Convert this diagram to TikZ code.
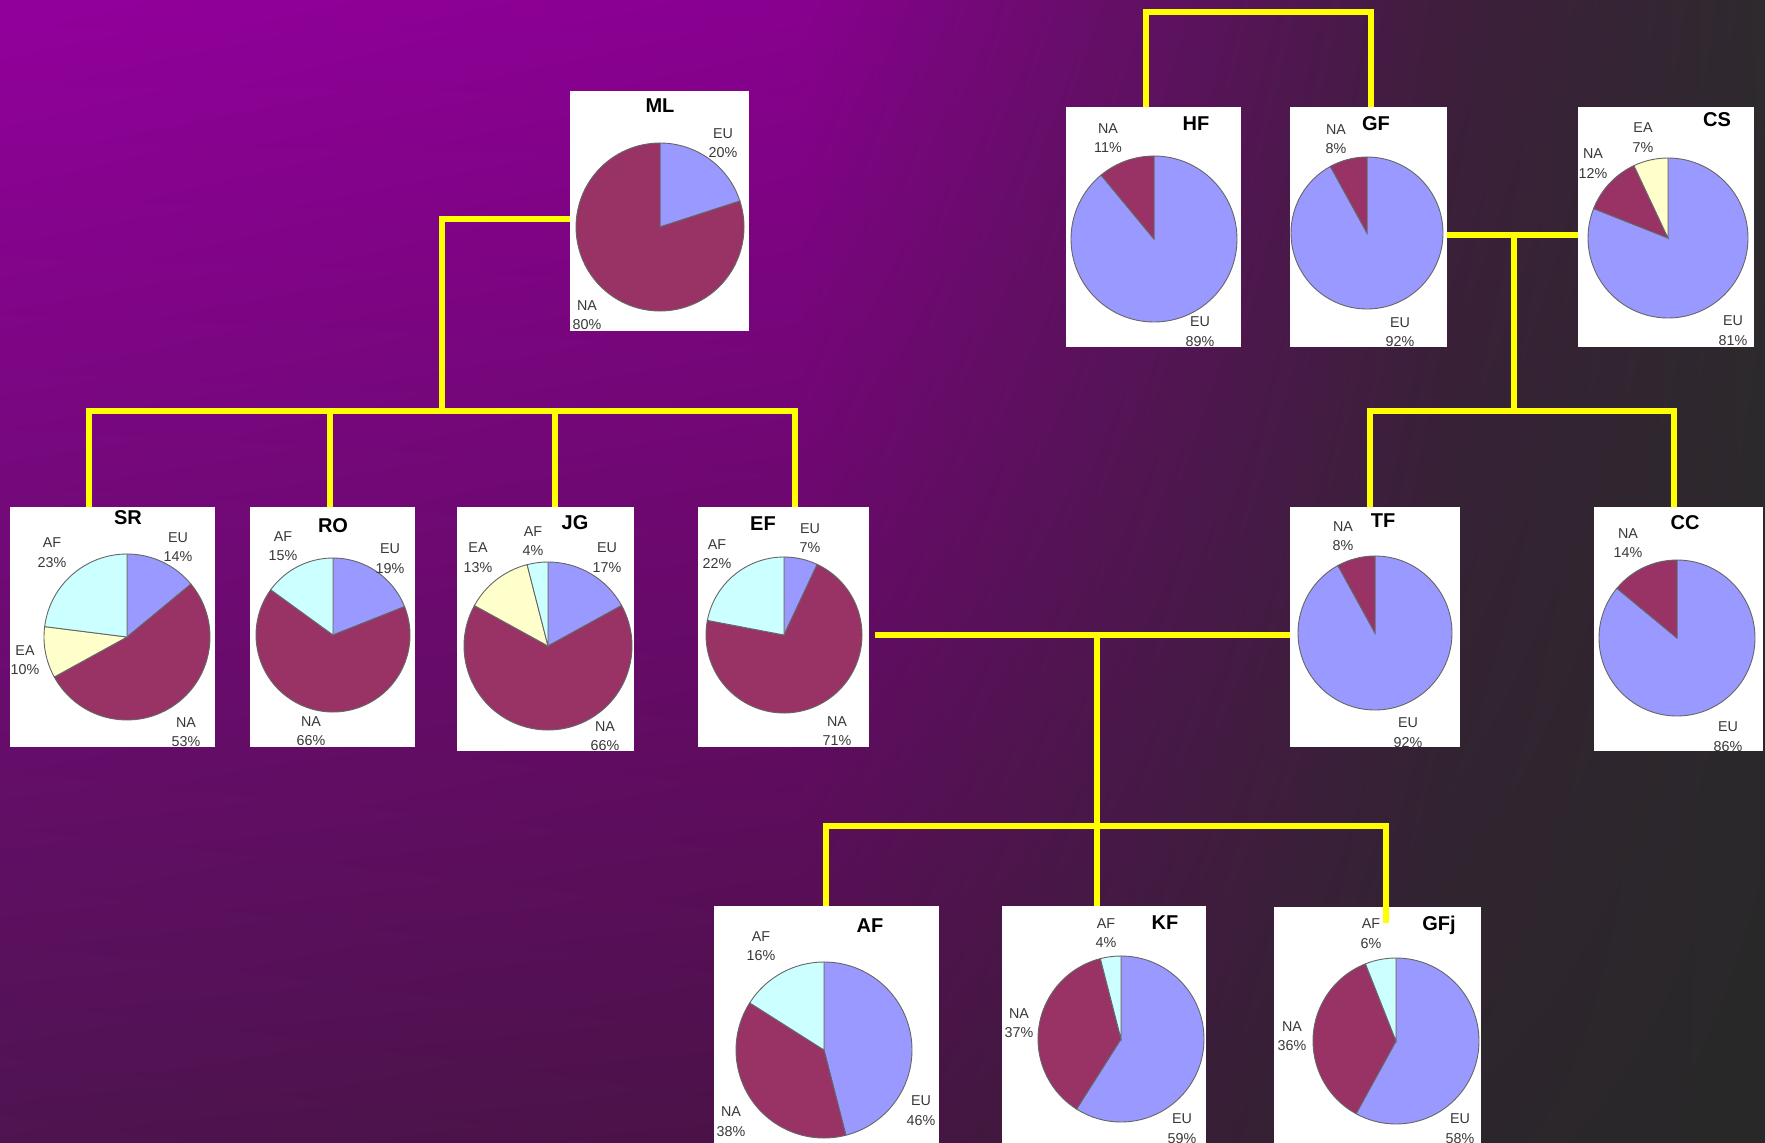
\documentclass[tikz,border=0pt]{standalone}
\usepackage{fontspec}
\setmainfont{Liberation Sans}
\usetikzlibrary{calc,shadings}

\definecolor{euC}{HTML}{9999FF}
\definecolor{naC}{HTML}{993366}
\definecolor{afC}{HTML}{CCFFFF}
\definecolor{eaC}{HTML}{FFFFCC}
\definecolor{wireC}{HTML}{FFFF00}
\definecolor{bgA}{HTML}{92009C}
\definecolor{bgB}{HTML}{88008F}
\definecolor{bgC}{HTML}{3E1E3C}
\definecolor{bgD}{HTML}{2E2A2E}
\definecolor{bgE}{HTML}{4E1450}
\definecolor{bgF}{HTML}{4A1246}
\definecolor{bgG}{HTML}{2C262C}
\definecolor{bgH}{HTML}{282828}

% pie: centre x, centre y, radius, list of percent/colour (clockwise from the top)
\newcommand{\piechart}[4]{%
  \begin{scope}[shift={(#1,#2)}]
    \gdef\angA{90}
    \foreach \p/\c in {#4} {
      \pgfmathsetmacro\angB{\angA-3.6*\p}
      \filldraw[draw=black!60, line width=0.9pt, fill=\c] (0,0) -- (\angA:#3pt)
        arc[start angle=\angA, end angle=\angB, radius=#3pt] -- cycle;
      \xdef\angA{\angB}
    }
  \end{scope}}
% share label: name, position, region, percent
\newcommand{\share}[4]{\node[share] (#1) at (#2) {#3\\#4\%};}

\begin{document}
\begin{tikzpicture}[x=1pt,y=-1pt,
  box/.style={fill=white, inner sep=0pt},
  wire/.style={draw=wireC, line width=6.5pt},
  share/.style={font=\fontsize{14.3}{19.5}\selectfont, text=black!78, align=center, inner sep=0pt},
  title/.style={font=\fontsize{20}{24}\selectfont\bfseries, anchor=base, inner sep=0pt}]

\useasboundingbox (0,0) rectangle (1765,1143);
\shade[upper left=bgA, upper right=bgB, lower left=bgE, lower right=bgF] (0,0) rectangle (800,1143);
\shade[upper left=bgB, upper right=bgC, lower left=bgF, lower right=bgG] (800,0) rectangle (1450,1143);
\shade[upper left=bgC, upper right=bgD, lower left=bgG, lower right=bgH] (1450,0) rectangle (1765,1143);

% ML
\node[box, minimum width=179pt, minimum height=240pt] (ml) at (659.5,211) {};
\node[title] (mlT) at (660,112) {ML};
\piechart{660}{227}{84}{20/euC, 80/naC}
\share{mlEU}{723,143}{EU}{20}
\share{mlNA}{587,315}{NA}{80}

% SR
\node[box, minimum width=205pt, minimum height=240pt] (sr) at (112.5,627) {};
\node[title] (srT) at (128,524) {SR};
\piechart{127}{637}{83}{14/euC, 53/naC, 10/eaC, 23/afC}
\share{srAF}{52,552.5}{AF}{23}
\share{srEU}{178,547}{EU}{14}
\share{srEA}{25,660}{EA}{10}
\share{srNA}{186,732}{NA}{53}

% RO
\node[box, minimum width=165pt, minimum height=240pt] (ro) at (332.5,627) {};
\node[title] (roT) at (333,532) {RO};
\piechart{333}{635}{77}{19/euC, 66/naC, 15/afC}
\share{roAF}{283,546}{AF}{15}
\share{roEU}{390,558.5}{EU}{19}
\share{roNA}{311,731}{NA}{66}

% JG
\node[box, minimum width=177pt, minimum height=244pt] (jg) at (545.5,629) {};
\node[title] (jgT) at (575,529) {JG};
\piechart{548}{646}{84}{17/euC, 66/naC, 13/eaC, 4/afC}
\share{jgAF}{533,541}{AF}{4}
\share{jgEA}{478,557.5}{EA}{13}
\share{jgEU}{607,557.5}{EU}{17}
\share{jgNA}{605,736}{NA}{66}

% EF
\node[box, minimum width=171pt, minimum height=240pt] (ef) at (783.5,627) {};
\node[title] (efT) at (763,530) {EF};
\piechart{784}{635}{78}{7/euC, 71/naC, 22/afC}
\share{efEU}{810,538}{EU}{7}
\share{efAF}{717,554}{AF}{22}
\share{efNA}{837,731}{NA}{71}

% HF
\node[box, minimum width=175pt, minimum height=240pt] (hf) at (1153.5,227) {};
\node[title] (hfT) at (1196,130) {HF};
\piechart{1154}{239}{83}{89/euC, 11/naC}
\share{hfNA}{1108,138}{NA}{11}
\share{hfEU}{1200,331.5}{EU}{89}

% GF
\node[box, minimum width=157pt, minimum height=240pt] (gf) at (1368.5,227) {};
\node[title] (gfT) at (1376,130) {GF};
\piechart{1367}{233}{76}{92/euC, 8/naC}
\share{gfNA}{1336,139}{NA}{8}
\share{gfEU}{1400,332}{EU}{92}

% CS
\node[box, minimum width=176pt, minimum height=240pt] (cs) at (1666,227) {};
\node[title] (csT) at (1717,126) {CS};
\piechart{1668}{238}{80}{81/euC, 12/naC, 7/eaC}
\share{csEA}{1643,137.5}{EA}{7}
\share{csNA}{1593,163.5}{NA}{12}
\share{csEU}{1733,330.5}{EU}{81}

% TF
\node[box, minimum width=170pt, minimum height=240pt] (tf) at (1375,627) {};
\node[title] (tfT) at (1383,527) {TF};
\piechart{1375}{633}{77}{92/euC, 8/naC}
\share{tfNA}{1343,536}{NA}{8}
\share{tfEU}{1408,732.5}{EU}{92}

% CC
\node[box, minimum width=169pt, minimum height=244pt] (cc) at (1678.5,629) {};
\node[title] (ccT) at (1685,529) {CC};
\piechart{1677}{638}{78}{86/euC, 14/naC}
\share{ccNA}{1628,543}{NA}{14}
\share{ccEU}{1728,736.5}{EU}{86}

% AF
\node[box, minimum width=225pt, minimum height=237pt] (af) at (826.5,1024.5) {};
\node[title] (afT) at (870,932) {AF};
\piechart{824}{1050}{88}{46/euC, 38/naC, 16/afC}
\share{afAF}{761,946}{AF}{16}
\share{afNA}{731,1121.5}{NA}{38}
\share{afEU}{921,1110.5}{EU}{46}

% KF
\node[box, minimum width=204pt, minimum height=237pt] (kf) at (1104,1024.5) {};
\node[title] (kfT) at (1165,929) {KF};
\piechart{1121}{1039}{83}{59/euC, 37/naC, 4/afC}
\share{kfAF}{1106,933}{AF}{4}
\share{kfNA}{1019,1023}{NA}{37}
\share{kfEU}{1182,1128.5}{EU}{59}

% GFj
\node[box, minimum width=207pt, minimum height=236pt] (gfj) at (1377.5,1025) {};
\node[title] (gfjT) at (1439,930) {GFj};
\piechart{1396}{1041}{83}{58/euC, 36/naC, 6/afC}
\share{gfjAF}{1371,933.5}{AF}{6}
\share{gfjNA}{1292,1036}{NA}{36}
\share{gfjEU}{1460,1128.5}{EU}{58}

% connectors
\coordinate (mlj) at (442,219);
\coordinate (lbus) at (442,411);
\coordinate (tsr) at (89,411);
\coordinate (tro) at (330,411);
\coordinate (tjg) at (555,411);
\coordinate (tef) at (795,411);
\draw[wire] (ml.west |- mlj) -- (mlj) -- (lbus);
\draw[wire] (tsr |- sr.north) -- (tsr) -- (tef) -- (tef |- ef.north);
\draw[wire] (tro) -- (tro |- ro.north);
\draw[wire] (tjg) -- (tjg |- jg.north);

\coordinate (thf) at (1146,12);
\coordinate (tgf) at (1371,12);
\draw[wire] (thf |- hf.north) -- (thf) -- (tgf) -- (tgf |- gf.north);
\coordinate (rj) at (1514,235);
\coordinate (rbus) at (1514,411);
\coordinate (ttf) at (1370,411);
\coordinate (tcc) at (1674,411);
\draw[wire] (gf.east |- rj) -- (cs.west |- rj);
\draw[wire] (rj) -- (rbus);
\draw[wire] (ttf |- tf.north) -- (ttf) -- (tcc) -- (tcc |- cc.north);

\coordinate (efr) at ([xshift=6pt]ef.east);
\coordinate (mj) at (1097,635);
\coordinate (mbus) at (1097,826);
\coordinate (taf) at (826,826);
\coordinate (tgfj) at (1386,826);
\coordinate (gfjend) at (1386,923);
\draw[wire] (efr |- mj) -- (tf.west |- mj);
\draw[wire] (mj) -- (mbus);
\draw[wire] (taf |- af.north) -- (taf) -- (tgfj) -- (gfjend);
\draw[wire] (mbus) -- (mbus |- kf.north);

\end{tikzpicture}
\end{document}
